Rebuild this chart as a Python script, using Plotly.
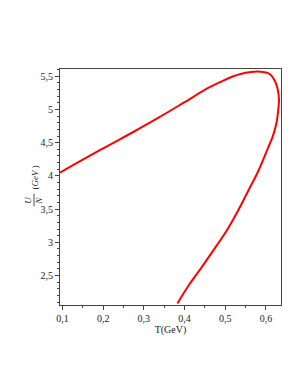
import plotly.graph_objects as go

# Curve points (T in GeV, U/N in GeV)
T_vals = [0.094, 0.15, 0.2125, 0.275, 0.335, 0.40, 0.458, 0.49, 0.52, 0.545, 0.564, 0.578, 0.595, 0.61,
          0.622, 0.629, 0.632,
          0.63, 0.626, 0.617, 0.605, 0.581, 0.556, 0.53, 0.503, 0.472, 0.4415, 0.41, 0.3825]
U_vals = [4.05, 4.245, 4.456, 4.665, 4.873, 5.11, 5.324, 5.42, 5.50, 5.545, 5.565, 5.572, 5.562, 5.53,
          5.43, 5.3, 5.15,
          4.98, 4.8, 4.6, 4.42, 4.07, 3.77, 3.46, 3.17, 2.89, 2.62, 2.35, 2.08]

x_ticks = [0.1, 0.2, 0.3, 0.4, 0.5, 0.6]
y_ticks = [2.5, 3, 3.5, 4, 4.5, 5, 5.5]

fig = go.Figure()
fig.add_trace(go.Scatter(x=T_vals, y=U_vals, mode="lines",
                         line=dict(color="#ff0000", width=2, shape="spline", smoothing=1.0),
                         showlegend=False, hoverinfo="skip"))

font = dict(family="Liberation Serif", size=10, color="#222")
lab = dict(family="Liberation Serif", size=9, color="#222")
fig.update_layout(
    width=295, height=382,
    margin=dict(l=52, r=22, t=61, b=85),
    paper_bgcolor="white", plot_bgcolor="white",
    separators=",.",
    font=font,
    xaxis=dict(range=[0.094, 0.637], tickvals=x_ticks, ticks="outside", ticklen=4, tickwidth=1,
               tickcolor="#444", showline=True, linecolor="#444", linewidth=1, mirror=True,
               showgrid=False, zeroline=False, tickfont=font,
               minor=dict(dtick=0.05, tick0=0.1, ticks="outside", ticklen=2, tickcolor="#444"),
               title=dict(text="T(GeV)", font=font, standoff=2)),
    yaxis=dict(range=[2.056, 5.61], tickvals=y_ticks, ticks="outside", ticklen=4, tickwidth=1,
               tickcolor="#444", showline=True, linecolor="#444", linewidth=1, mirror=True,
               showgrid=False, zeroline=False, tickfont=font,
               minor=dict(dtick=0.1, tick0=2.0, ticks="outside", ticklen=2, tickcolor="#444")),
)
# y-axis label: fraction U over N followed by (GeV ), rotated
fig.add_annotation(text="(<i>GeV</i> )", xref="paper", yref="paper",
                   x=-0.113, y=0.54, textangle=-90, showarrow=False, font=lab,
                   xanchor="center", yanchor="middle")
fig.add_annotation(text="<i>U</i>", xref="paper", yref="paper",
                   x=-0.142, y=0.444, textangle=-90, showarrow=False, font=lab,
                   xanchor="center", yanchor="middle")
fig.add_annotation(text="<i>N</i>", xref="paper", yref="paper",
                   x=-0.093, y=0.444, textangle=-90, showarrow=False, font=lab,
                   xanchor="center", yanchor="middle")
fig.add_shape(type="line", xref="paper", yref="paper", x0=-0.1176, x1=-0.1176, y0=0.472, y1=0.418,
              line=dict(color="#222", width=0.8))
fig.write_html("out.html")
